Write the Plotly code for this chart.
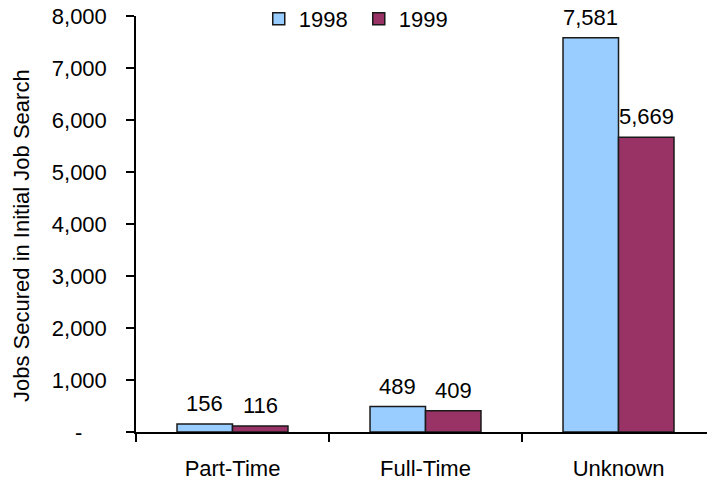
import plotly.graph_objects as go

# Jobs secured in initial job search, by job type
categories = ["Part-Time", "Full-Time", "Unknown"]
jobs_1998 = [156, 489, 7581]
jobs_1999 = [116, 409, 5669]

y_tickvals = [0, 1000, 2000, 3000, 4000, 5000, 6000, 7000, 8000]
y_ticktext = ["-\u00a0\u00a0\u00a0\u00a0", "1,000", "2,000", "3,000", "4,000",
              "5,000", "6,000", "7,000", "8,000"]
y_title = "Jobs Secured in Initial Job Search"

FONT = "Arial, Liberation Sans, sans-serif"

WIDTH, HEIGHT = 707, 484
MARGIN_L, MARGIN_R, MARGIN_T, MARGIN_B = 136, 0, 16, 52
X_RANGE = [-0.5, 2.4585]
BARGAP = 0.425

fig = go.Figure()
fig.add_trace(go.Bar(
    name="1998", x=categories, y=jobs_1998,
    marker=dict(color="#99CCFF", line=dict(color="#1a1a1a", width=1.5)),
))
fig.add_trace(go.Bar(
    name="1999", x=categories, y=jobs_1999,
    marker=dict(color="#993366", line=dict(color="#1a1a1a", width=1.5)),
))

# value labels above each bar, shifted sideways to the centre of its bar
plot_w = WIDTH - MARGIN_L - MARGIN_R
plot_h = HEIGHT - MARGIN_T - MARGIN_B
px_per_cat = plot_w / (X_RANGE[1] - X_RANGE[0])
half_offset = (1 - BARGAP) / 4 * px_per_cat
annotations = []
for series, shift in ((jobs_1998, -half_offset), (jobs_1999, half_offset)):
    for cat, val in zip(categories, series):
        annotations.append(dict(
            x=cat, y=val, xref="x", yref="y", text=f"{val:,}",
            showarrow=False, xanchor="center", yanchor="bottom",
            xshift=shift, yshift=6,
            font=dict(size=22, color="#000000", family=FONT),
        ))

# rotated y-axis title, sitting a little below the plot's mid-height
annotations.append(dict(
    text=y_title, textangle=-90, showarrow=False,
    xref="paper", yref="paper",
    x=(21 - MARGIN_L) / plot_w, y=(HEIGHT - MARGIN_B - 236) / plot_h,
    xanchor="center", yanchor="middle",
    font=dict(size=22, color="#000000", family=FONT),
))

fig.update_layout(
    width=WIDTH, height=HEIGHT,
    margin=dict(l=MARGIN_L, r=MARGIN_R, t=MARGIN_T, b=MARGIN_B, autoexpand=False),
    paper_bgcolor="white", plot_bgcolor="white",
    font=dict(family=FONT, size=22, color="#000000"),
    barmode="group", bargap=BARGAP, bargroupgap=0,
    annotations=annotations,
    legend=dict(
        orientation="h", x=0.215, xanchor="left",
        y=1 + (MARGIN_T - 19) / plot_h, yanchor="middle",
        font=dict(size=22), bgcolor="rgba(0,0,0,0)",
        entrywidth=55, entrywidthmode="pixels",
        itemclick=False,
    ),
    showlegend=True,
)

fig.update_xaxes(
    type="category", range=X_RANGE,
    showline=True, linecolor="#000000", linewidth=1.5,
    ticks="outside", ticklen=8, tickcolor="#000000", tickwidth=1.5,
    tickson="boundaries", showgrid=False, zeroline=False,
    tickfont=dict(size=22), ticklabelstandoff=16,
)
fig.update_yaxes(
    range=[0, 8000], tickvals=y_tickvals, ticktext=y_ticktext,
    showline=True, linecolor="#000000", linewidth=1.5,
    ticks="outside", ticklen=8, tickcolor="#000000", tickwidth=1.5,
    showgrid=False, zeroline=False,
    tickfont=dict(size=22), ticklabelstandoff=15,
)

fig.write_html("out.html")
